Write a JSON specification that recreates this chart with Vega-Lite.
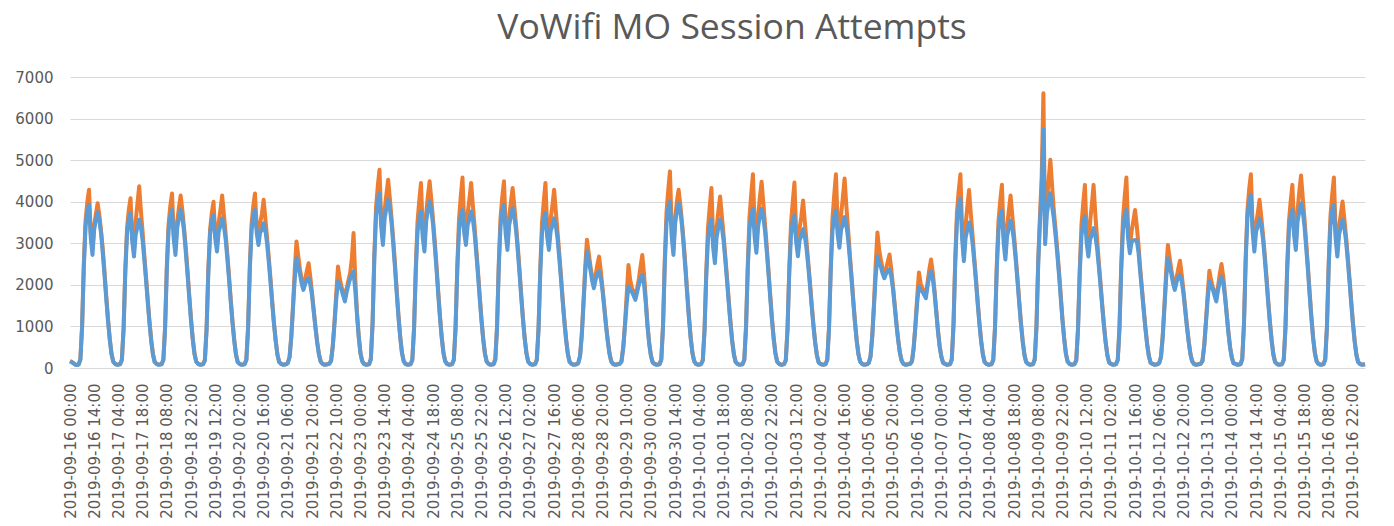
{"$schema":"https://vega.github.io/schema/vega-lite/v6.json","autosize":{"type":"none"},"padding":{"left":70,"top":77,"right":0,"bottom":158},"width":1324,"height":291,"background":"white","title":{"text":"VoWifi MO Session Attempts","font":"Open Sans","fontSize":35.5,"fontWeight":"normal","color":"#595959","anchor":"middle","frame":"group","offset":24},
"data":{"values":[
{"t":"2019-09-16 00:00","b":160,"o":170},{"t":"2019-09-16 01:00","b":140,"o":150},{"t":"2019-09-16 02:00","b":110,"o":115},{"t":"2019-09-16 03:00","b":80,"o":85},{"t":"2019-09-16 04:00","b":70,"o":75},{"t":"2019-09-16 05:00","b":80,"o":85},{"t":"2019-09-16 06:00","b":200,"o":210},{"t":"2019-09-16 07:00","b":980,"o":1020},{"t":"2019-09-16 08:00","b":2430,"o":2530},{"t":"2019-09-16 09:00","b":3410,"o":3540},{"t":"2019-09-16 10:00","b":3770,"o":3990},{"t":"2019-09-16 11:00","b":3925,"o":4290},{"t":"2019-09-16 12:00","b":3140,"o":3250},{"t":"2019-09-16 13:00","b":2720,"o":2860},{"t":"2019-09-16 14:00","b":3340,"o":3430},{"t":"2019-09-16 15:00","b":3560,"o":3710},{"t":"2019-09-16 16:00","b":3750,"o":3965},{"t":"2019-09-16 17:00","b":3560,"o":3670},{"t":"2019-09-16 18:00","b":3230,"o":3280},{"t":"2019-09-16 19:00","b":2740,"o":2850},{"t":"2019-09-16 20:00","b":2210,"o":2300},{"t":"2019-09-16 21:00","b":1650,"o":1720},{"t":"2019-09-16 22:00","b":1130,"o":1170},{"t":"2019-09-16 23:00","b":680,"o":710},
{"t":"2019-09-17 00:00","b":340,"o":350},{"t":"2019-09-17 01:00","b":150,"o":160},{"t":"2019-09-17 02:00","b":100,"o":105},{"t":"2019-09-17 03:00","b":80,"o":85},{"t":"2019-09-17 04:00","b":80,"o":85},{"t":"2019-09-17 05:00","b":90,"o":95},{"t":"2019-09-17 06:00","b":190,"o":200},{"t":"2019-09-17 07:00","b":930,"o":970},{"t":"2019-09-17 08:00","b":2310,"o":2400},{"t":"2019-09-17 09:00","b":3240,"o":3370},{"t":"2019-09-17 10:00","b":3580,"o":3800},{"t":"2019-09-17 11:00","b":3725,"o":4085},{"t":"2019-09-17 12:00","b":3050,"o":3160},{"t":"2019-09-17 13:00","b":2680,"o":2810},{"t":"2019-09-17 14:00","b":3210,"o":3530},{"t":"2019-09-17 15:00","b":3390,"o":3950},{"t":"2019-09-17 16:00","b":3565,"o":4370},{"t":"2019-09-17 17:00","b":3390,"o":3790},{"t":"2019-09-17 18:00","b":3070,"o":3270},{"t":"2019-09-17 19:00","b":2600,"o":2700},{"t":"2019-09-17 20:00","b":2100,"o":2180},{"t":"2019-09-17 21:00","b":1570,"o":1630},{"t":"2019-09-17 22:00","b":1070,"o":1110},{"t":"2019-09-17 23:00","b":640,"o":670},
{"t":"2019-09-18 00:00","b":320,"o":330},{"t":"2019-09-18 01:00","b":140,"o":150},{"t":"2019-09-18 02:00","b":100,"o":105},{"t":"2019-09-18 03:00","b":80,"o":85},{"t":"2019-09-18 04:00","b":80,"o":85},{"t":"2019-09-18 05:00","b":90,"o":95},{"t":"2019-09-18 06:00","b":190,"o":200},{"t":"2019-09-18 07:00","b":950,"o":990},{"t":"2019-09-18 08:00","b":2360,"o":2450},{"t":"2019-09-18 09:00","b":3310,"o":3450},{"t":"2019-09-18 10:00","b":3650,"o":3890},{"t":"2019-09-18 11:00","b":3800,"o":4200},{"t":"2019-09-18 12:00","b":3100,"o":3220},{"t":"2019-09-18 13:00","b":2720,"o":2860},{"t":"2019-09-18 14:00","b":3370,"o":3510},{"t":"2019-09-18 15:00","b":3610,"o":3860},{"t":"2019-09-18 16:00","b":3800,"o":4150},{"t":"2019-09-18 17:00","b":3610,"o":3790},{"t":"2019-09-18 18:00","b":3270,"o":3360},{"t":"2019-09-18 19:00","b":2770,"o":2880},{"t":"2019-09-18 20:00","b":2240,"o":2330},{"t":"2019-09-18 21:00","b":1670,"o":1740},{"t":"2019-09-18 22:00","b":1140,"o":1190},{"t":"2019-09-18 23:00","b":680,"o":710},
{"t":"2019-09-19 00:00","b":340,"o":350},{"t":"2019-09-19 01:00","b":150,"o":160},{"t":"2019-09-19 02:00","b":100,"o":105},{"t":"2019-09-19 03:00","b":80,"o":85},{"t":"2019-09-19 04:00","b":80,"o":85},{"t":"2019-09-19 05:00","b":90,"o":95},{"t":"2019-09-19 06:00","b":180,"o":190},{"t":"2019-09-19 07:00","b":920,"o":960},{"t":"2019-09-19 08:00","b":2280,"o":2370},{"t":"2019-09-19 09:00","b":3210,"o":3320},{"t":"2019-09-19 10:00","b":3540,"o":3730},{"t":"2019-09-19 11:00","b":3685,"o":4000},{"t":"2019-09-19 12:00","b":3110,"o":3200},{"t":"2019-09-19 13:00","b":2800,"o":2940},{"t":"2019-09-19 14:00","b":3280,"o":3500},{"t":"2019-09-19 15:00","b":3420,"o":3800},{"t":"2019-09-19 16:00","b":3600,"o":4150},{"t":"2019-09-19 17:00","b":3420,"o":3700},{"t":"2019-09-19 18:00","b":3100,"o":3240},{"t":"2019-09-19 19:00","b":2630,"o":2740},{"t":"2019-09-19 20:00","b":2120,"o":2210},{"t":"2019-09-19 21:00","b":1580,"o":1640},{"t":"2019-09-19 22:00","b":1080,"o":1120},{"t":"2019-09-19 23:00","b":650,"o":680},
{"t":"2019-09-20 00:00","b":320,"o":330},{"t":"2019-09-20 01:00","b":140,"o":150},{"t":"2019-09-20 02:00","b":100,"o":105},{"t":"2019-09-20 03:00","b":80,"o":85},{"t":"2019-09-20 04:00","b":80,"o":85},{"t":"2019-09-20 05:00","b":90,"o":95},{"t":"2019-09-20 06:00","b":190,"o":200},{"t":"2019-09-20 07:00","b":950,"o":990},{"t":"2019-09-20 08:00","b":2360,"o":2450},{"t":"2019-09-20 09:00","b":3310,"o":3450},{"t":"2019-09-20 10:00","b":3650,"o":3890},{"t":"2019-09-20 11:00","b":3800,"o":4200},{"t":"2019-09-20 12:00","b":3250,"o":3370},{"t":"2019-09-20 13:00","b":2960,"o":3110},{"t":"2019-09-20 14:00","b":3270,"o":3500},{"t":"2019-09-20 15:00","b":3310,"o":3710},{"t":"2019-09-20 16:00","b":3480,"o":4045},{"t":"2019-09-20 17:00","b":3310,"o":3590},{"t":"2019-09-20 18:00","b":2990,"o":3130},{"t":"2019-09-20 19:00","b":2540,"o":2640},{"t":"2019-09-20 20:00","b":2050,"o":2130},{"t":"2019-09-20 21:00","b":1530,"o":1590},{"t":"2019-09-20 22:00","b":1040,"o":1080},{"t":"2019-09-20 23:00","b":630,"o":660},
{"t":"2019-09-21 00:00","b":310,"o":320},{"t":"2019-09-21 01:00","b":140,"o":150},{"t":"2019-09-21 02:00","b":100,"o":105},{"t":"2019-09-21 03:00","b":80,"o":85},{"t":"2019-09-21 04:00","b":80,"o":85},{"t":"2019-09-21 05:00","b":90,"o":95},{"t":"2019-09-21 06:00","b":120,"o":125},{"t":"2019-09-21 07:00","b":260,"o":270},{"t":"2019-09-21 08:00","b":740,"o":770},{"t":"2019-09-21 09:00","b":1450,"o":1510},{"t":"2019-09-21 10:00","b":2160,"o":2360},{"t":"2019-09-21 11:00","b":2640,"o":3045},{"t":"2019-09-21 12:00","b":2460,"o":2700},{"t":"2019-09-21 13:00","b":2260,"o":2380},{"t":"2019-09-21 14:00","b":2030,"o":2130},{"t":"2019-09-21 15:00","b":1880,"o":1970},{"t":"2019-09-21 16:00","b":2020,"o":2130},{"t":"2019-09-21 17:00","b":2120,"o":2340},{"t":"2019-09-21 18:00","b":2160,"o":2520},{"t":"2019-09-21 19:00","b":2010,"o":2190},{"t":"2019-09-21 20:00","b":1730,"o":1800},{"t":"2019-09-21 21:00","b":1340,"o":1390},{"t":"2019-09-21 22:00","b":950,"o":990},{"t":"2019-09-21 23:00","b":600,"o":620},
{"t":"2019-09-22 00:00","b":320,"o":330},{"t":"2019-09-22 01:00","b":150,"o":160},{"t":"2019-09-22 02:00","b":100,"o":105},{"t":"2019-09-22 03:00","b":80,"o":85},{"t":"2019-09-22 04:00","b":80,"o":85},{"t":"2019-09-22 05:00","b":90,"o":95},{"t":"2019-09-22 06:00","b":100,"o":105},{"t":"2019-09-22 07:00","b":170,"o":180},{"t":"2019-09-22 08:00","b":520,"o":540},{"t":"2019-09-22 09:00","b":1080,"o":1120},{"t":"2019-09-22 10:00","b":1660,"o":1800},{"t":"2019-09-22 11:00","b":2080,"o":2440},{"t":"2019-09-22 12:00","b":1980,"o":2160},{"t":"2019-09-22 13:00","b":1890,"o":1960},{"t":"2019-09-22 14:00","b":1740,"o":1830},{"t":"2019-09-22 15:00","b":1600,"o":1680},{"t":"2019-09-22 16:00","b":1820,"o":1910},{"t":"2019-09-22 17:00","b":2000,"o":2100},{"t":"2019-09-22 18:00","b":2140,"o":2280},{"t":"2019-09-22 19:00","b":2250,"o":2620},{"t":"2019-09-22 20:00","b":2320,"o":3245},{"t":"2019-09-22 21:00","b":1860,"o":2140},{"t":"2019-09-22 22:00","b":1280,"o":1330},{"t":"2019-09-22 23:00","b":740,"o":770},
{"t":"2019-09-23 00:00","b":350,"o":360},{"t":"2019-09-23 01:00","b":160,"o":170},{"t":"2019-09-23 02:00","b":100,"o":105},{"t":"2019-09-23 03:00","b":80,"o":85},{"t":"2019-09-23 04:00","b":80,"o":85},{"t":"2019-09-23 05:00","b":90,"o":95},{"t":"2019-09-23 06:00","b":210,"o":220},{"t":"2019-09-23 07:00","b":1050,"o":1090},{"t":"2019-09-23 08:00","b":2600,"o":2700},{"t":"2019-09-23 09:00","b":3650,"o":3850},{"t":"2019-09-23 10:00","b":4030,"o":4370},{"t":"2019-09-23 11:00","b":4200,"o":4770},{"t":"2019-09-23 12:00","b":3390,"o":3560},{"t":"2019-09-23 13:00","b":2960,"o":3110},{"t":"2019-09-23 14:00","b":3610,"o":3800},{"t":"2019-09-23 15:00","b":3840,"o":4180},{"t":"2019-09-23 16:00","b":4045,"o":4530},{"t":"2019-09-23 17:00","b":3840,"o":4080},{"t":"2019-09-23 18:00","b":3480,"o":3600},{"t":"2019-09-23 19:00","b":2950,"o":3070},{"t":"2019-09-23 20:00","b":2390,"o":2490},{"t":"2019-09-23 21:00","b":1780,"o":1850},{"t":"2019-09-23 22:00","b":1210,"o":1260},{"t":"2019-09-23 23:00","b":730,"o":760},
{"t":"2019-09-24 00:00","b":360,"o":370},{"t":"2019-09-24 01:00","b":160,"o":170},{"t":"2019-09-24 02:00","b":100,"o":105},{"t":"2019-09-24 03:00","b":80,"o":85},{"t":"2019-09-24 04:00","b":80,"o":85},{"t":"2019-09-24 05:00","b":90,"o":95},{"t":"2019-09-24 06:00","b":190,"o":200},{"t":"2019-09-24 07:00","b":940,"o":980},{"t":"2019-09-24 08:00","b":2330,"o":2420},{"t":"2019-09-24 09:00","b":3280,"o":3520},{"t":"2019-09-24 10:00","b":3610,"o":4020},{"t":"2019-09-24 11:00","b":3765,"o":4450},{"t":"2019-09-24 12:00","b":3140,"o":3350},{"t":"2019-09-24 13:00","b":2800,"o":2940},{"t":"2019-09-24 14:00","b":3520,"o":3720},{"t":"2019-09-24 15:00","b":3800,"o":4140},{"t":"2019-09-24 16:00","b":4000,"o":4490},{"t":"2019-09-24 17:00","b":3800,"o":4050},{"t":"2019-09-24 18:00","b":3440,"o":3560},{"t":"2019-09-24 19:00","b":2920,"o":3040},{"t":"2019-09-24 20:00","b":2360,"o":2450},{"t":"2019-09-24 21:00","b":1760,"o":1830},{"t":"2019-09-24 22:00","b":1200,"o":1250},{"t":"2019-09-24 23:00","b":720,"o":750},
{"t":"2019-09-25 00:00","b":360,"o":370},{"t":"2019-09-25 01:00","b":160,"o":170},{"t":"2019-09-25 02:00","b":100,"o":105},{"t":"2019-09-25 03:00","b":80,"o":85},{"t":"2019-09-25 04:00","b":80,"o":85},{"t":"2019-09-25 05:00","b":90,"o":95},{"t":"2019-09-25 06:00","b":190,"o":200},{"t":"2019-09-25 07:00","b":950,"o":990},{"t":"2019-09-25 08:00","b":2360,"o":2450},{"t":"2019-09-25 09:00","b":3310,"o":3580},{"t":"2019-09-25 10:00","b":3650,"o":4120},{"t":"2019-09-25 11:00","b":3800,"o":4580},{"t":"2019-09-25 12:00","b":3250,"o":3480},{"t":"2019-09-25 13:00","b":2960,"o":3110},{"t":"2019-09-25 14:00","b":3440,"o":3710},{"t":"2019-09-25 15:00","b":3580,"o":4060},{"t":"2019-09-25 16:00","b":3765,"o":4450},{"t":"2019-09-25 17:00","b":3580,"o":3920},{"t":"2019-09-25 18:00","b":3240,"o":3410},{"t":"2019-09-25 19:00","b":2750,"o":2860},{"t":"2019-09-25 20:00","b":2220,"o":2310},{"t":"2019-09-25 21:00","b":1660,"o":1730},{"t":"2019-09-25 22:00","b":1130,"o":1180},{"t":"2019-09-25 23:00","b":680,"o":710},
{"t":"2019-09-26 00:00","b":340,"o":350},{"t":"2019-09-26 01:00","b":150,"o":160},{"t":"2019-09-26 02:00","b":100,"o":105},{"t":"2019-09-26 03:00","b":80,"o":85},{"t":"2019-09-26 04:00","b":80,"o":85},{"t":"2019-09-26 05:00","b":90,"o":95},{"t":"2019-09-26 06:00","b":200,"o":210},{"t":"2019-09-26 07:00","b":980,"o":1020},{"t":"2019-09-26 08:00","b":2430,"o":2530},{"t":"2019-09-26 09:00","b":3410,"o":3610},{"t":"2019-09-26 10:00","b":3770,"o":4110},{"t":"2019-09-26 11:00","b":3925,"o":4490},{"t":"2019-09-26 12:00","b":3220,"o":3390},{"t":"2019-09-26 13:00","b":2840,"o":2980},{"t":"2019-09-26 14:00","b":3440,"o":3630},{"t":"2019-09-26 15:00","b":3650,"o":3990},{"t":"2019-09-26 16:00","b":3845,"o":4330},{"t":"2019-09-26 17:00","b":3650,"o":3890},{"t":"2019-09-26 18:00","b":3310,"o":3430},{"t":"2019-09-26 19:00","b":2810,"o":2920},{"t":"2019-09-26 20:00","b":2270,"o":2360},{"t":"2019-09-26 21:00","b":1690,"o":1760},{"t":"2019-09-26 22:00","b":1150,"o":1200},{"t":"2019-09-26 23:00","b":690,"o":720},
{"t":"2019-09-27 00:00","b":350,"o":360},{"t":"2019-09-27 01:00","b":150,"o":160},{"t":"2019-09-27 02:00","b":100,"o":105},{"t":"2019-09-27 03:00","b":80,"o":85},{"t":"2019-09-27 04:00","b":80,"o":85},{"t":"2019-09-27 05:00","b":90,"o":95},{"t":"2019-09-27 06:00","b":190,"o":200},{"t":"2019-09-27 07:00","b":930,"o":970},{"t":"2019-09-27 08:00","b":2310,"o":2400},{"t":"2019-09-27 09:00","b":3240,"o":3490},{"t":"2019-09-27 10:00","b":3580,"o":4010},{"t":"2019-09-27 11:00","b":3725,"o":4450},{"t":"2019-09-27 12:00","b":3150,"o":3370},{"t":"2019-09-27 13:00","b":2840,"o":2980},{"t":"2019-09-27 14:00","b":3300,"o":3580},{"t":"2019-09-27 15:00","b":3420,"o":3900},{"t":"2019-09-27 16:00","b":3600,"o":4290},{"t":"2019-09-27 17:00","b":3420,"o":3770},{"t":"2019-09-27 18:00","b":3100,"o":3270},{"t":"2019-09-27 19:00","b":2630,"o":2740},{"t":"2019-09-27 20:00","b":2120,"o":2210},{"t":"2019-09-27 21:00","b":1580,"o":1640},{"t":"2019-09-27 22:00","b":1080,"o":1120},{"t":"2019-09-27 23:00","b":650,"o":680},
{"t":"2019-09-28 00:00","b":320,"o":330},{"t":"2019-09-28 01:00","b":140,"o":150},{"t":"2019-09-28 02:00","b":100,"o":105},{"t":"2019-09-28 03:00","b":80,"o":85},{"t":"2019-09-28 04:00","b":80,"o":85},{"t":"2019-09-28 05:00","b":90,"o":95},{"t":"2019-09-28 06:00","b":120,"o":125},{"t":"2019-09-28 07:00","b":280,"o":290},{"t":"2019-09-28 08:00","b":780,"o":810},{"t":"2019-09-28 09:00","b":1540,"o":1600},{"t":"2019-09-28 10:00","b":2300,"o":2440},{"t":"2019-09-28 11:00","b":2800,"o":3085},{"t":"2019-09-28 12:00","b":2600,"o":2770},{"t":"2019-09-28 13:00","b":2360,"o":2450},{"t":"2019-09-28 14:00","b":2100,"o":2200},{"t":"2019-09-28 15:00","b":1920,"o":2020},{"t":"2019-09-28 16:00","b":2120,"o":2230},{"t":"2019-09-28 17:00","b":2260,"o":2480},{"t":"2019-09-28 18:00","b":2320,"o":2680},{"t":"2019-09-28 19:00","b":2160,"o":2340},{"t":"2019-09-28 20:00","b":1860,"o":1930},{"t":"2019-09-28 21:00","b":1440,"o":1500},{"t":"2019-09-28 22:00","b":1020,"o":1060},{"t":"2019-09-28 23:00","b":650,"o":680},
{"t":"2019-09-29 00:00","b":350,"o":360},{"t":"2019-09-29 01:00","b":160,"o":170},{"t":"2019-09-29 02:00","b":100,"o":105},{"t":"2019-09-29 03:00","b":80,"o":85},{"t":"2019-09-29 04:00","b":80,"o":85},{"t":"2019-09-29 05:00","b":90,"o":95},{"t":"2019-09-29 06:00","b":100,"o":105},{"t":"2019-09-29 07:00","b":160,"o":170},{"t":"2019-09-29 08:00","b":490,"o":510},{"t":"2019-09-29 09:00","b":1020,"o":1060},{"t":"2019-09-29 10:00","b":1570,"o":1780},{"t":"2019-09-29 11:00","b":1960,"o":2480},{"t":"2019-09-29 12:00","b":1860,"o":2120},{"t":"2019-09-29 13:00","b":1830,"o":1930},{"t":"2019-09-29 14:00","b":1740,"o":1830},{"t":"2019-09-29 15:00","b":1640,"o":1720},{"t":"2019-09-29 16:00","b":1820,"o":1910},{"t":"2019-09-29 17:00","b":2000,"o":2140},{"t":"2019-09-29 18:00","b":2150,"o":2440},{"t":"2019-09-29 19:00","b":2240,"o":2720},{"t":"2019-09-29 20:00","b":2020,"o":2260},{"t":"2019-09-29 21:00","b":1570,"o":1670},{"t":"2019-09-29 22:00","b":1010,"o":1050},{"t":"2019-09-29 23:00","b":580,"o":600},
{"t":"2019-09-30 00:00","b":290,"o":300},{"t":"2019-09-30 01:00","b":130,"o":140},{"t":"2019-09-30 02:00","b":100,"o":105},{"t":"2019-09-30 03:00","b":80,"o":85},{"t":"2019-09-30 04:00","b":80,"o":85},{"t":"2019-09-30 05:00","b":90,"o":95},{"t":"2019-09-30 06:00","b":200,"o":210},{"t":"2019-09-30 07:00","b":1000,"o":1040},{"t":"2019-09-30 08:00","b":2480,"o":2580},{"t":"2019-09-30 09:00","b":3480,"o":3740},{"t":"2019-09-30 10:00","b":3840,"o":4280},{"t":"2019-09-30 11:00","b":4000,"o":4730},{"t":"2019-09-30 12:00","b":3170,"o":3390},{"t":"2019-09-30 13:00","b":2720,"o":2860},{"t":"2019-09-30 14:00","b":3470,"o":3600},{"t":"2019-09-30 15:00","b":3770,"o":4000},{"t":"2019-09-30 16:00","b":3965,"o":4290},{"t":"2019-09-30 17:00","b":3770,"o":3930},{"t":"2019-09-30 18:00","b":3410,"o":3490},{"t":"2019-09-30 19:00","b":2890,"o":3010},{"t":"2019-09-30 20:00","b":2340,"o":2430},{"t":"2019-09-30 21:00","b":1750,"o":1820},{"t":"2019-09-30 22:00","b":1190,"o":1240},{"t":"2019-09-30 23:00","b":710,"o":740},
{"t":"2019-10-01 00:00","b":360,"o":370},{"t":"2019-10-01 01:00","b":160,"o":170},{"t":"2019-10-01 02:00","b":100,"o":105},{"t":"2019-10-01 03:00","b":80,"o":85},{"t":"2019-10-01 04:00","b":80,"o":85},{"t":"2019-10-01 05:00","b":90,"o":95},{"t":"2019-10-01 06:00","b":180,"o":190},{"t":"2019-10-01 07:00","b":890,"o":930},{"t":"2019-10-01 08:00","b":2210,"o":2300},{"t":"2019-10-01 09:00","b":3100,"o":3370},{"t":"2019-10-01 10:00","b":3420,"o":3880},{"t":"2019-10-01 11:00","b":3565,"o":4330},{"t":"2019-10-01 12:00","b":2890,"o":3120},{"t":"2019-10-01 13:00","b":2520,"o":2650},{"t":"2019-10-01 14:00","b":3150,"o":3370},{"t":"2019-10-01 15:00","b":3390,"o":3780},{"t":"2019-10-01 16:00","b":3565,"o":4125},{"t":"2019-10-01 17:00","b":3390,"o":3670},{"t":"2019-10-01 18:00","b":3070,"o":3210},{"t":"2019-10-01 19:00","b":2600,"o":2700},{"t":"2019-10-01 20:00","b":2100,"o":2180},{"t":"2019-10-01 21:00","b":1570,"o":1630},{"t":"2019-10-01 22:00","b":1070,"o":1110},{"t":"2019-10-01 23:00","b":640,"o":670},
{"t":"2019-10-02 00:00","b":320,"o":330},{"t":"2019-10-02 01:00","b":140,"o":150},{"t":"2019-10-02 02:00","b":100,"o":105},{"t":"2019-10-02 03:00","b":80,"o":85},{"t":"2019-10-02 04:00","b":80,"o":85},{"t":"2019-10-02 05:00","b":90,"o":95},{"t":"2019-10-02 06:00","b":190,"o":200},{"t":"2019-10-02 07:00","b":960,"o":1000},{"t":"2019-10-02 08:00","b":2370,"o":2460},{"t":"2019-10-02 09:00","b":3330,"o":3620},{"t":"2019-10-02 10:00","b":3680,"o":4180},{"t":"2019-10-02 11:00","b":3830,"o":4660},{"t":"2019-10-02 12:00","b":3140,"o":3390},{"t":"2019-10-02 13:00","b":2770,"o":2910},{"t":"2019-10-02 14:00","b":3410,"o":3670},{"t":"2019-10-02 15:00","b":3640,"o":4100},{"t":"2019-10-02 16:00","b":3830,"o":4480},{"t":"2019-10-02 17:00","b":3640,"o":3970},{"t":"2019-10-02 18:00","b":3290,"o":3450},{"t":"2019-10-02 19:00","b":2800,"o":2910},{"t":"2019-10-02 20:00","b":2260,"o":2350},{"t":"2019-10-02 21:00","b":1690,"o":1760},{"t":"2019-10-02 22:00","b":1150,"o":1200},{"t":"2019-10-02 23:00","b":690,"o":720},
{"t":"2019-10-03 00:00","b":350,"o":360},{"t":"2019-10-03 01:00","b":150,"o":160},{"t":"2019-10-03 02:00","b":100,"o":105},{"t":"2019-10-03 03:00","b":80,"o":85},{"t":"2019-10-03 04:00","b":80,"o":85},{"t":"2019-10-03 05:00","b":90,"o":95},{"t":"2019-10-03 06:00","b":180,"o":190},{"t":"2019-10-03 07:00","b":920,"o":960},{"t":"2019-10-03 08:00","b":2280,"o":2370},{"t":"2019-10-03 09:00","b":3190,"o":3470},{"t":"2019-10-03 10:00","b":3520,"o":3990},{"t":"2019-10-03 11:00","b":3670,"o":4460},{"t":"2019-10-03 12:00","b":3030,"o":3270},{"t":"2019-10-03 13:00","b":2690,"o":2820},{"t":"2019-10-03 14:00","b":3080,"o":3360},{"t":"2019-10-03 15:00","b":3170,"o":3650},{"t":"2019-10-03 16:00","b":3340,"o":4030},{"t":"2019-10-03 17:00","b":3170,"o":3520},{"t":"2019-10-03 18:00","b":2870,"o":3040},{"t":"2019-10-03 19:00","b":2440,"o":2540},{"t":"2019-10-03 20:00","b":1970,"o":2050},{"t":"2019-10-03 21:00","b":1470,"o":1530},{"t":"2019-10-03 22:00","b":1000,"o":1040},{"t":"2019-10-03 23:00","b":600,"o":620},
{"t":"2019-10-04 00:00","b":300,"o":310},{"t":"2019-10-04 01:00","b":130,"o":140},{"t":"2019-10-04 02:00","b":100,"o":105},{"t":"2019-10-04 03:00","b":80,"o":85},{"t":"2019-10-04 04:00","b":80,"o":85},{"t":"2019-10-04 05:00","b":90,"o":95},{"t":"2019-10-04 06:00","b":190,"o":200},{"t":"2019-10-04 07:00","b":950,"o":990},{"t":"2019-10-04 08:00","b":2350,"o":2440},{"t":"2019-10-04 09:00","b":3300,"o":3600},{"t":"2019-10-04 10:00","b":3640,"o":4160},{"t":"2019-10-04 11:00","b":3790,"o":4660},{"t":"2019-10-04 12:00","b":3210,"o":3470},{"t":"2019-10-04 13:00","b":2890,"o":3030},{"t":"2019-10-04 14:00","b":3330,"o":3700},{"t":"2019-10-04 15:00","b":3450,"o":4100},{"t":"2019-10-04 16:00","b":3630,"o":4560},{"t":"2019-10-04 17:00","b":3450,"o":3920},{"t":"2019-10-04 18:00","b":3120,"o":3350},{"t":"2019-10-04 19:00","b":2650,"o":2760},{"t":"2019-10-04 20:00","b":2140,"o":2230},{"t":"2019-10-04 21:00","b":1600,"o":1660},{"t":"2019-10-04 22:00","b":1090,"o":1130},{"t":"2019-10-04 23:00","b":650,"o":680},
{"t":"2019-10-05 00:00","b":330,"o":340},{"t":"2019-10-05 01:00","b":150,"o":160},{"t":"2019-10-05 02:00","b":100,"o":105},{"t":"2019-10-05 03:00","b":80,"o":85},{"t":"2019-10-05 04:00","b":80,"o":85},{"t":"2019-10-05 05:00","b":90,"o":95},{"t":"2019-10-05 06:00","b":120,"o":125},{"t":"2019-10-05 07:00","b":270,"o":280},{"t":"2019-10-05 08:00","b":750,"o":780},{"t":"2019-10-05 09:00","b":1480,"o":1540},{"t":"2019-10-05 10:00","b":2210,"o":2500},{"t":"2019-10-05 11:00","b":2690,"o":3260},{"t":"2019-10-05 12:00","b":2500,"o":2840},{"t":"2019-10-05 13:00","b":2430,"o":2600},{"t":"2019-10-05 14:00","b":2270,"o":2380},{"t":"2019-10-05 15:00","b":2160,"o":2270},{"t":"2019-10-05 16:00","b":2270,"o":2380},{"t":"2019-10-05 17:00","b":2340,"o":2560},{"t":"2019-10-05 18:00","b":2370,"o":2730},{"t":"2019-10-05 19:00","b":2200,"o":2380},{"t":"2019-10-05 20:00","b":1900,"o":1970},{"t":"2019-10-05 21:00","b":1470,"o":1530},{"t":"2019-10-05 22:00","b":1040,"o":1080},{"t":"2019-10-05 23:00","b":660,"o":690},
{"t":"2019-10-06 00:00","b":360,"o":370},{"t":"2019-10-06 01:00","b":170,"o":180},{"t":"2019-10-06 02:00","b":100,"o":105},{"t":"2019-10-06 03:00","b":80,"o":85},{"t":"2019-10-06 04:00","b":80,"o":85},{"t":"2019-10-06 05:00","b":90,"o":95},{"t":"2019-10-06 06:00","b":100,"o":105},{"t":"2019-10-06 07:00","b":160,"o":170},{"t":"2019-10-06 08:00","b":490,"o":510},{"t":"2019-10-06 09:00","b":1020,"o":1060},{"t":"2019-10-06 10:00","b":1570,"o":1710},{"t":"2019-10-06 11:00","b":1960,"o":2300},{"t":"2019-10-06 12:00","b":1860,"o":2030},{"t":"2019-10-06 13:00","b":1850,"o":1920},{"t":"2019-10-06 14:00","b":1760,"o":1850},{"t":"2019-10-06 15:00","b":1680,"o":1760},{"t":"2019-10-06 16:00","b":1970,"o":2060},{"t":"2019-10-06 17:00","b":2200,"o":2370},{"t":"2019-10-06 18:00","b":2325,"o":2610},{"t":"2019-10-06 19:00","b":2160,"o":2300},{"t":"2019-10-06 20:00","b":1810,"o":1870},{"t":"2019-10-06 21:00","b":1350,"o":1400},{"t":"2019-10-06 22:00","b":880,"o":920},{"t":"2019-10-06 23:00","b":510,"o":530},
{"t":"2019-10-07 00:00","b":260,"o":270},{"t":"2019-10-07 01:00","b":120,"o":125},{"t":"2019-10-07 02:00","b":100,"o":105},{"t":"2019-10-07 03:00","b":80,"o":85},{"t":"2019-10-07 04:00","b":80,"o":85},{"t":"2019-10-07 05:00","b":90,"o":95},{"t":"2019-10-07 06:00","b":200,"o":210},{"t":"2019-10-07 07:00","b":1020,"o":1060},{"t":"2019-10-07 08:00","b":2520,"o":2620},{"t":"2019-10-07 09:00","b":3540,"o":3750},{"t":"2019-10-07 10:00","b":3910,"o":4260},{"t":"2019-10-07 11:00","b":4070,"o":4660},{"t":"2019-10-07 12:00","b":3100,"o":3280},{"t":"2019-10-07 13:00","b":2570,"o":2700},{"t":"2019-10-07 14:00","b":3130,"o":3440},{"t":"2019-10-07 15:00","b":3330,"o":3880},{"t":"2019-10-07 16:00","b":3500,"o":4280},{"t":"2019-10-07 17:00","b":3330,"o":3720},{"t":"2019-10-07 18:00","b":3010,"o":3210},{"t":"2019-10-07 19:00","b":2560,"o":2660},{"t":"2019-10-07 20:00","b":2070,"o":2150},{"t":"2019-10-07 21:00","b":1540,"o":1600},{"t":"2019-10-07 22:00","b":1050,"o":1090},{"t":"2019-10-07 23:00","b":630,"o":660},
{"t":"2019-10-08 00:00","b":320,"o":330},{"t":"2019-10-08 01:00","b":140,"o":150},{"t":"2019-10-08 02:00","b":100,"o":105},{"t":"2019-10-08 03:00","b":80,"o":85},{"t":"2019-10-08 04:00","b":80,"o":85},{"t":"2019-10-08 05:00","b":90,"o":95},{"t":"2019-10-08 06:00","b":190,"o":200},{"t":"2019-10-08 07:00","b":950,"o":990},{"t":"2019-10-08 08:00","b":2350,"o":2440},{"t":"2019-10-08 09:00","b":3300,"o":3520},{"t":"2019-10-08 10:00","b":3640,"o":4010},{"t":"2019-10-08 11:00","b":3790,"o":4410},{"t":"2019-10-08 12:00","b":3020,"o":3210},{"t":"2019-10-08 13:00","b":2610,"o":2740},{"t":"2019-10-08 14:00","b":3170,"o":3410},{"t":"2019-10-08 15:00","b":3370,"o":3790},{"t":"2019-10-08 16:00","b":3545,"o":4150},{"t":"2019-10-08 17:00","b":3370,"o":3670},{"t":"2019-10-08 18:00","b":3050,"o":3200},{"t":"2019-10-08 19:00","b":2590,"o":2690},{"t":"2019-10-08 20:00","b":2090,"o":2170},{"t":"2019-10-08 21:00","b":1560,"o":1620},{"t":"2019-10-08 22:00","b":1060,"o":1100},{"t":"2019-10-08 23:00","b":640,"o":670},
{"t":"2019-10-09 00:00","b":320,"o":330},{"t":"2019-10-09 01:00","b":140,"o":150},{"t":"2019-10-09 02:00","b":100,"o":105},{"t":"2019-10-09 03:00","b":80,"o":85},{"t":"2019-10-09 04:00","b":80,"o":85},{"t":"2019-10-09 05:00","b":90,"o":95},{"t":"2019-10-09 06:00","b":200,"o":210},{"t":"2019-10-09 07:00","b":1000,"o":1040},{"t":"2019-10-09 08:00","b":2500,"o":2600},{"t":"2019-10-09 09:00","b":3500,"o":3650},{"t":"2019-10-09 10:00","b":4300,"o":4600},{"t":"2019-10-09 11:00","b":5740,"o":6610},{"t":"2019-10-09 12:00","b":2980,"o":3100},{"t":"2019-10-09 13:00","b":3700,"o":4000},{"t":"2019-10-09 14:00","b":4000,"o":4500},{"t":"2019-10-09 15:00","b":4200,"o":5010},{"t":"2019-10-09 16:00","b":3900,"o":4400},{"t":"2019-10-09 17:00","b":3600,"o":3800},{"t":"2019-10-09 18:00","b":3200,"o":3350},{"t":"2019-10-09 19:00","b":2750,"o":2860},{"t":"2019-10-09 20:00","b":2250,"o":2340},{"t":"2019-10-09 21:00","b":1700,"o":1770},{"t":"2019-10-09 22:00","b":1150,"o":1200},{"t":"2019-10-09 23:00","b":700,"o":730},
{"t":"2019-10-10 00:00","b":340,"o":350},{"t":"2019-10-10 01:00","b":150,"o":160},{"t":"2019-10-10 02:00","b":100,"o":105},{"t":"2019-10-10 03:00","b":80,"o":85},{"t":"2019-10-10 04:00","b":80,"o":85},{"t":"2019-10-10 05:00","b":90,"o":95},{"t":"2019-10-10 06:00","b":180,"o":190},{"t":"2019-10-10 07:00","b":910,"o":950},{"t":"2019-10-10 08:00","b":2260,"o":2350},{"t":"2019-10-10 09:00","b":3170,"o":3440},{"t":"2019-10-10 10:00","b":3500,"o":3960},{"t":"2019-10-10 11:00","b":3645,"o":4405},{"t":"2019-10-10 12:00","b":3020,"o":3250},{"t":"2019-10-10 13:00","b":2680,"o":2810},{"t":"2019-10-10 14:00","b":3090,"o":3510},{"t":"2019-10-10 15:00","b":3200,"o":3930},{"t":"2019-10-10 16:00","b":3365,"o":4405},{"t":"2019-10-10 17:00","b":3200,"o":3720},{"t":"2019-10-10 18:00","b":2890,"o":3150},{"t":"2019-10-10 19:00","b":2460,"o":2560},{"t":"2019-10-10 20:00","b":1990,"o":2070},{"t":"2019-10-10 21:00","b":1480,"o":1540},{"t":"2019-10-10 22:00","b":1010,"o":1050},{"t":"2019-10-10 23:00","b":610,"o":630},
{"t":"2019-10-11 00:00","b":300,"o":310},{"t":"2019-10-11 01:00","b":130,"o":140},{"t":"2019-10-11 02:00","b":100,"o":105},{"t":"2019-10-11 03:00","b":80,"o":85},{"t":"2019-10-11 04:00","b":80,"o":85},{"t":"2019-10-11 05:00","b":90,"o":95},{"t":"2019-10-11 06:00","b":190,"o":200},{"t":"2019-10-11 07:00","b":950,"o":990},{"t":"2019-10-11 08:00","b":2360,"o":2450},{"t":"2019-10-11 09:00","b":3310,"o":3580},{"t":"2019-10-11 10:00","b":3650,"o":4120},{"t":"2019-10-11 11:00","b":3800,"o":4580},{"t":"2019-10-11 12:00","b":3120,"o":3350},{"t":"2019-10-11 13:00","b":2760,"o":2900},{"t":"2019-10-11 14:00","b":3030,"o":3290},{"t":"2019-10-11 15:00","b":3070,"o":3540},{"t":"2019-10-11 16:00","b":3080,"o":3800},{"t":"2019-10-11 17:00","b":3060,"o":3420},{"t":"2019-10-11 18:00","b":2780,"o":2960},{"t":"2019-10-11 19:00","b":2300,"o":2390},{"t":"2019-10-11 20:00","b":1850,"o":1920},{"t":"2019-10-11 21:00","b":1380,"o":1440},{"t":"2019-10-11 22:00","b":940,"o":980},{"t":"2019-10-11 23:00","b":560,"o":580},
{"t":"2019-10-12 00:00","b":280,"o":290},{"t":"2019-10-12 01:00","b":120,"o":130},{"t":"2019-10-12 02:00","b":100,"o":105},{"t":"2019-10-12 03:00","b":80,"o":85},{"t":"2019-10-12 04:00","b":80,"o":85},{"t":"2019-10-12 05:00","b":90,"o":95},{"t":"2019-10-12 06:00","b":120,"o":125},{"t":"2019-10-12 07:00","b":260,"o":270},{"t":"2019-10-12 08:00","b":740,"o":770},{"t":"2019-10-12 09:00","b":1450,"o":1510},{"t":"2019-10-12 10:00","b":2160,"o":2320},{"t":"2019-10-12 11:00","b":2640,"o":2960},{"t":"2019-10-12 12:00","b":2460,"o":2650},{"t":"2019-10-12 13:00","b":2260,"o":2360},{"t":"2019-10-12 14:00","b":2030,"o":2130},{"t":"2019-10-12 15:00","b":1880,"o":1970},{"t":"2019-10-12 16:00","b":2060,"o":2160},{"t":"2019-10-12 17:00","b":2190,"o":2390},{"t":"2019-10-12 18:00","b":2240,"o":2580},{"t":"2019-10-12 19:00","b":2080,"o":2250},{"t":"2019-10-12 20:00","b":1790,"o":1860},{"t":"2019-10-12 21:00","b":1390,"o":1450},{"t":"2019-10-12 22:00","b":990,"o":1030},{"t":"2019-10-12 23:00","b":630,"o":660},
{"t":"2019-10-13 00:00","b":340,"o":350},{"t":"2019-10-13 01:00","b":160,"o":170},{"t":"2019-10-13 02:00","b":100,"o":105},{"t":"2019-10-13 03:00","b":80,"o":85},{"t":"2019-10-13 04:00","b":80,"o":85},{"t":"2019-10-13 05:00","b":90,"o":95},{"t":"2019-10-13 06:00","b":100,"o":105},{"t":"2019-10-13 07:00","b":170,"o":180},{"t":"2019-10-13 08:00","b":520,"o":540},{"t":"2019-10-13 09:00","b":1080,"o":1120},{"t":"2019-10-13 10:00","b":1660,"o":1760},{"t":"2019-10-13 11:00","b":2080,"o":2340},{"t":"2019-10-13 12:00","b":1980,"o":2110},{"t":"2019-10-13 13:00","b":1890,"o":1940},{"t":"2019-10-13 14:00","b":1740,"o":1830},{"t":"2019-10-13 15:00","b":1600,"o":1680},{"t":"2019-10-13 16:00","b":1870,"o":1960},{"t":"2019-10-13 17:00","b":2080,"o":2260},{"t":"2019-10-13 18:00","b":2200,"o":2500},{"t":"2019-10-13 19:00","b":2050,"o":2200},{"t":"2019-10-13 20:00","b":1720,"o":1780},{"t":"2019-10-13 21:00","b":1280,"o":1330},{"t":"2019-10-13 22:00","b":840,"o":870},{"t":"2019-10-13 23:00","b":480,"o":500},
{"t":"2019-10-14 00:00","b":240,"o":250},{"t":"2019-10-14 01:00","b":110,"o":115},{"t":"2019-10-14 02:00","b":100,"o":105},{"t":"2019-10-14 03:00","b":80,"o":85},{"t":"2019-10-14 04:00","b":80,"o":85},{"t":"2019-10-14 05:00","b":90,"o":95},{"t":"2019-10-14 06:00","b":210,"o":220},{"t":"2019-10-14 07:00","b":1040,"o":1080},{"t":"2019-10-14 08:00","b":2580,"o":2680},{"t":"2019-10-14 09:00","b":3620,"o":3790},{"t":"2019-10-14 10:00","b":4000,"o":4300},{"t":"2019-10-14 11:00","b":4165,"o":4660},{"t":"2019-10-14 12:00","b":3280,"o":3430},{"t":"2019-10-14 13:00","b":2800,"o":2940},{"t":"2019-10-14 14:00","b":3280,"o":3460},{"t":"2019-10-14 15:00","b":3420,"o":3730},{"t":"2019-10-14 16:00","b":3600,"o":4045},{"t":"2019-10-14 17:00","b":3420,"o":3640},{"t":"2019-10-14 18:00","b":3100,"o":3210},{"t":"2019-10-14 19:00","b":2630,"o":2740},{"t":"2019-10-14 20:00","b":2120,"o":2210},{"t":"2019-10-14 21:00","b":1580,"o":1640},{"t":"2019-10-14 22:00","b":1080,"o":1120},{"t":"2019-10-14 23:00","b":650,"o":680},
{"t":"2019-10-15 00:00","b":320,"o":330},{"t":"2019-10-15 01:00","b":140,"o":150},{"t":"2019-10-15 02:00","b":100,"o":105},{"t":"2019-10-15 03:00","b":80,"o":85},{"t":"2019-10-15 04:00","b":80,"o":85},{"t":"2019-10-15 05:00","b":90,"o":95},{"t":"2019-10-15 06:00","b":190,"o":200},{"t":"2019-10-15 07:00","b":950,"o":990},{"t":"2019-10-15 08:00","b":2360,"o":2450},{"t":"2019-10-15 09:00","b":3310,"o":3520},{"t":"2019-10-15 10:00","b":3650,"o":4010},{"t":"2019-10-15 11:00","b":3800,"o":4405},{"t":"2019-10-15 12:00","b":3180,"o":3360},{"t":"2019-10-15 13:00","b":2840,"o":2980},{"t":"2019-10-15 14:00","b":3520,"o":3790},{"t":"2019-10-15 15:00","b":3770,"o":4240},{"t":"2019-10-15 16:00","b":3965,"o":4630},{"t":"2019-10-15 17:00","b":3770,"o":4100},{"t":"2019-10-15 18:00","b":3410,"o":3580},{"t":"2019-10-15 19:00","b":2890,"o":3010},{"t":"2019-10-15 20:00","b":2340,"o":2430},{"t":"2019-10-15 21:00","b":1750,"o":1820},{"t":"2019-10-15 22:00","b":1190,"o":1240},{"t":"2019-10-15 23:00","b":710,"o":740},
{"t":"2019-10-16 00:00","b":360,"o":370},{"t":"2019-10-16 01:00","b":160,"o":170},{"t":"2019-10-16 02:00","b":100,"o":105},{"t":"2019-10-16 03:00","b":80,"o":85},{"t":"2019-10-16 04:00","b":80,"o":85},{"t":"2019-10-16 05:00","b":90,"o":95},{"t":"2019-10-16 06:00","b":200,"o":210},{"t":"2019-10-16 07:00","b":980,"o":1020},{"t":"2019-10-16 08:00","b":2430,"o":2530},{"t":"2019-10-16 09:00","b":3410,"o":3640},{"t":"2019-10-16 10:00","b":3770,"o":4160},{"t":"2019-10-16 11:00","b":3925,"o":4580},{"t":"2019-10-16 12:00","b":3120,"o":3320},{"t":"2019-10-16 13:00","b":2680,"o":2810},{"t":"2019-10-16 14:00","b":3210,"o":3390},{"t":"2019-10-16 15:00","b":3390,"o":3700},{"t":"2019-10-16 16:00","b":3565,"o":4005},{"t":"2019-10-16 17:00","b":3390,"o":3610},{"t":"2019-10-16 18:00","b":3070,"o":3180},{"t":"2019-10-16 19:00","b":2600,"o":2700},{"t":"2019-10-16 20:00","b":2100,"o":2180},{"t":"2019-10-16 21:00","b":1570,"o":1630},{"t":"2019-10-16 22:00","b":1070,"o":1110},{"t":"2019-10-16 23:00","b":640,"o":670},
{"t":"2019-10-17 00:00","b":320,"o":330},{"t":"2019-10-17 01:00","b":140,"o":150},{"t":"2019-10-17 02:00","b":100,"o":105},{"t":"2019-10-17 03:00","b":80,"o":85},{"t":"2019-10-17 04:00","b":80,"o":85},{"t":"2019-10-17 05:00","b":90,"o":95}
]},
"encoding":{"x":{"field":"t","type":"ordinal","sort":null,"title":null,"scale":{"type":"point","range":[0,1295],"padding":0},"axis":{"labelAngle":-90,"labelOverlap":false,"values":["2019-09-16 00:00","2019-09-16 14:00","2019-09-17 04:00","2019-09-17 18:00","2019-09-18 08:00","2019-09-18 22:00","2019-09-19 12:00","2019-09-20 02:00","2019-09-20 16:00","2019-09-21 06:00","2019-09-21 20:00","2019-09-22 10:00","2019-09-23 00:00","2019-09-23 14:00","2019-09-24 04:00","2019-09-24 18:00","2019-09-25 08:00","2019-09-25 22:00","2019-09-26 12:00","2019-09-27 02:00","2019-09-27 16:00","2019-09-28 06:00","2019-09-28 20:00","2019-09-29 10:00","2019-09-30 00:00","2019-09-30 14:00","2019-10-01 04:00","2019-10-01 18:00","2019-10-02 08:00","2019-10-02 22:00","2019-10-03 12:00","2019-10-04 02:00","2019-10-04 16:00","2019-10-05 06:00","2019-10-05 20:00","2019-10-06 10:00","2019-10-07 00:00","2019-10-07 14:00","2019-10-08 04:00","2019-10-08 18:00","2019-10-09 08:00","2019-10-09 22:00","2019-10-10 12:00","2019-10-11 02:00","2019-10-11 16:00","2019-10-12 06:00","2019-10-12 20:00","2019-10-13 10:00","2019-10-14 00:00","2019-10-14 14:00","2019-10-15 04:00","2019-10-15 18:00","2019-10-16 08:00","2019-10-16 22:00"]}}},
"layer":[
{"mark":{"type":"line","color":"#ED7D31","strokeWidth":4,"strokeJoin":"round"},"encoding":{"y":{"field":"o","type":"quantitative","title":null,"scale":{"domain":[0,7000],"nice":false,"zero":true},"axis":{"values":[0,1000,2000,3000,4000,5000,6000,7000],"format":"d"}}}},
{"mark":{"type":"line","color":"#5B9BD5","strokeWidth":4,"strokeJoin":"round"},"encoding":{"y":{"field":"b","type":"quantitative","title":null}}}
],
"config":{"view":{"stroke":null},"axis":{"domain":false,"ticks":false,"labelColor":"#595959","labelFont":"DejaVu Sans","labelFontSize":15},"axisX":{"grid":false,"labelPadding":15},"axisY":{"grid":true,"gridColor":"#D9D9D9","gridWidth":1,"labelPadding":17}}}
